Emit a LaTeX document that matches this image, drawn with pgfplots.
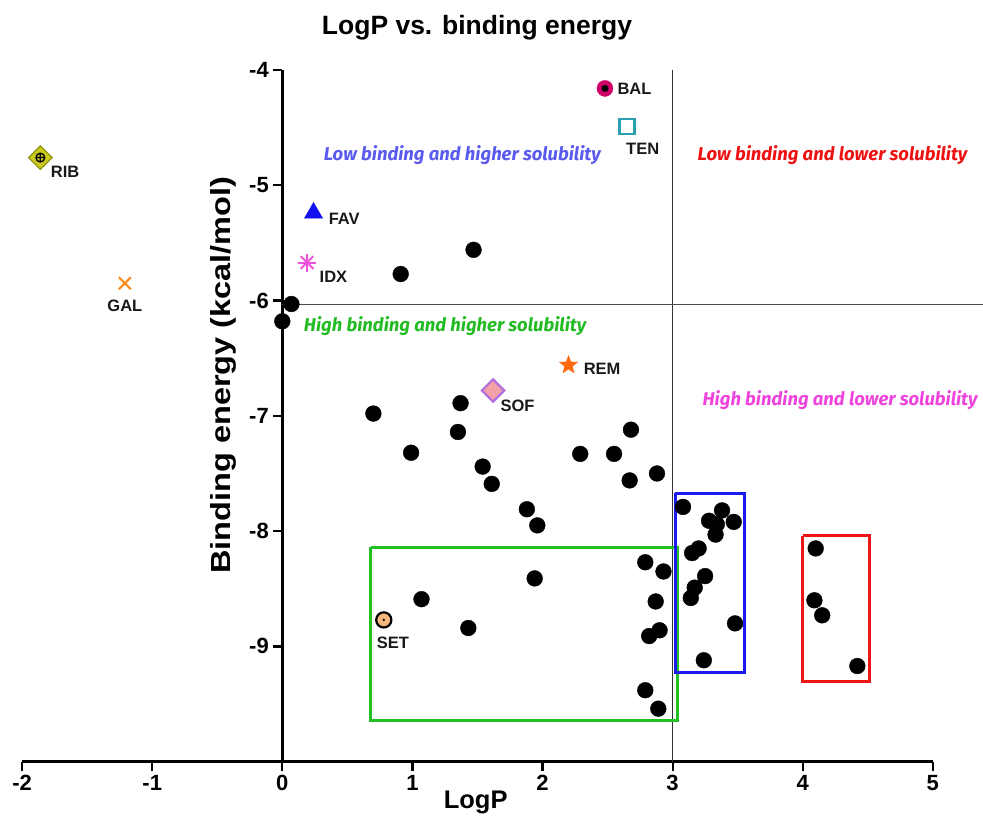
\documentclass[border=0pt]{standalone}
\usepackage{pgfplots}
\pgfplotsset{compat=1.18}
\usepackage{fontspec}
\setmainfont{Liberation Sans}
\newfontfamily\annfont{Fira Sans}
\definecolor{boxgreen}{HTML}{22C022}
\definecolor{boxblue}{HTML}{1A1AEE}
\definecolor{boxred}{HTML}{EE1515}
\definecolor{txtblue}{HTML}{5A5AEE}
\definecolor{txtgreen}{HTML}{22BB22}
\definecolor{txtred}{HTML}{EE1111}
\definecolor{txtmag}{HTML}{EE44DD}
\definecolor{ribfill}{HTML}{C8C81E}
\definecolor{ribedge}{HTML}{8C8C10}
\definecolor{galorange}{HTML}{FF8C1A}
\definecolor{favblue}{HTML}{1010F0}
\definecolor{idxmag}{HTML}{EE50D8}
\definecolor{balred}{HTML}{CC0066}
\definecolor{tenteal}{HTML}{2AA0B0}
\definecolor{remorange}{HTML}{FF6A10}
\definecolor{soffill}{HTML}{F4A0A8}
\definecolor{sofedge}{HTML}{B070E0}
\definecolor{setfill}{HTML}{F5B87A}
\pgfdeclareplotmark{fstar}{%
  \pgfpathmoveto{\pgfpointpolar{90}{\pgfplotmarksize}}%
  \pgfpathlineto{\pgfpointpolar{126}{0.42\pgfplotmarksize}}%
  \pgfpathlineto{\pgfpointpolar{162}{\pgfplotmarksize}}%
  \pgfpathlineto{\pgfpointpolar{198}{0.42\pgfplotmarksize}}%
  \pgfpathlineto{\pgfpointpolar{234}{\pgfplotmarksize}}%
  \pgfpathlineto{\pgfpointpolar{270}{0.42\pgfplotmarksize}}%
  \pgfpathlineto{\pgfpointpolar{306}{\pgfplotmarksize}}%
  \pgfpathlineto{\pgfpointpolar{342}{0.42\pgfplotmarksize}}%
  \pgfpathlineto{\pgfpointpolar{18}{\pgfplotmarksize}}%
  \pgfpathlineto{\pgfpointpolar{54}{0.42\pgfplotmarksize}}%
  \pgfpathclose
  \pgfusepathqfillstroke
}
\begin{document}
\begin{tikzpicture}
\begin{axis}[
  scale only axis, width=911pt, height=692pt,
  xmin=-2, xmax=5, ymin=-10, ymax=-4,
  axis x line*=bottom, axis y line*=middle,
  axis line style={line width=2.8pt, -},
  hide obscured x ticks=false, hide obscured y ticks=false,
  xtick={-2,-1,0,1,2,3,4,5},
  xticklabels={{-2},{-1},0,1,2,3,4,5},
  ytick={-9,-8,-7,-6,-5,-4},
  yticklabels={{-9},{-8},{-7},{-6},{-5},{-4}},
  tick align=outside, major tick length=9pt,
  tick style={line width=2.2pt, black},
  tick label style={font=\bfseries\fontsize{22}{24}\selectfont},
  xticklabel style={yshift=-1pt},
  yticklabel style={xshift=-1pt},
  title={LogP vs. binding energy},
  title style={font=\bfseries\fontsize{26.5}{28}\selectfont, at={(axis description cs:0.4995,1.052)}, anchor=center},
  xlabel={LogP},
  xlabel style={font=\bfseries\fontsize{25.5}{28}\selectfont, at={(axis description cs:0.498,-0.059)}, anchor=center},
  ylabel={\scalebox{1}[0.85]{Binding energy (kcal/mol)}},
  ylabel style={font=\bfseries\fontsize{32.5}{34}\selectfont, at={(axis description cs:0.2205,0.559)}, anchor=center, rotate=0},
  clip=false,
]
% reference lines
\addplot[black!80, line width=1pt] coordinates {(3,-10) (3,-4)};
\addplot[black!70, line width=1pt] coordinates {(0,-6.03) (5.386,-6.03)};
% boxes
\addplot[boxgreen, line width=3pt] coordinates {(0.68,-8.14) (3.04,-8.14) (3.04,-9.64) (0.68,-9.64) (0.68,-8.14)};
\addplot[boxblue, line width=3pt] coordinates {(3.02,-7.67) (3.55,-7.67) (3.55,-9.23) (3.02,-9.23) (3.02,-7.67)};
\addplot[boxred, line width=3pt] coordinates {(4.00,-8.04) (4.51,-8.04) (4.51,-9.30) (4.00,-9.30) (4.00,-8.04)};
% black compounds
\addplot[only marks, mark=*, mark size=7.9pt, black] coordinates {
(0,-6.18) (0.07,-6.03) (0.91,-5.77) (1.47,-5.56) (0.70,-6.98) (1.37,-6.89)
(1.35,-7.14) (0.99,-7.32) (1.54,-7.44) (1.61,-7.59) (2.29,-7.33) (2.55,-7.33)
(2.68,-7.12) (2.67,-7.56) (2.88,-7.50) (1.88,-7.81) (1.96,-7.95) (1.94,-8.41)
(1.07,-8.59) (1.43,-8.84) (2.79,-8.27) (2.93,-8.35) (2.87,-8.61) (2.90,-8.86)
(2.82,-8.91) (2.79,-9.38) (2.89,-9.54)
(3.08,-7.79) (3.38,-7.82) (3.28,-7.91) (3.47,-7.92) (3.34,-7.94) (3.33,-8.03)
(3.20,-8.15) (3.15,-8.19) (3.25,-8.39) (3.17,-8.49) (3.14,-8.58) (3.48,-8.80)
(3.24,-9.12)
(4.10,-8.15) (4.09,-8.60) (4.15,-8.73) (4.42,-9.17)
};
% RIB
\addplot[only marks, mark=square*, mark size=8.4pt, mark options={rotate=45, fill=ribfill, draw=ribedge, line width=1pt}] coordinates {(-1.86,-4.76)};
\addplot[only marks, mark=oplus, mark size=4.4pt, mark options={draw=black, line width=1.3pt}] coordinates {(-1.86,-4.76)};
% GAL
\addplot[only marks, mark=x, mark size=8.5pt, mark options={draw=galorange, line width=2.2pt}] coordinates {(-1.21,-5.85)};
% FAV
\addplot[only marks, mark=triangle*, mark size=10.5pt, mark options={fill=favblue, draw=favblue}] coordinates {(0.24,-5.24)};
% IDX
\addplot[only marks, mark=+, mark size=9pt, mark options={draw=idxmag, line width=2pt}] coordinates {(0.19,-5.67)};
\addplot[only marks, mark=x, mark size=9pt, mark options={draw=idxmag, line width=2pt}] coordinates {(0.19,-5.67)};
% BAL
\addplot[only marks, mark=*, mark size=8pt, mark options={fill=balred, draw=balred}] coordinates {(2.48,-4.16)};
\addplot[only marks, mark=*, mark size=3.2pt, black] coordinates {(2.48,-4.16)};
% TEN
\addplot[only marks, mark=square, mark size=7.6pt, mark options={draw=tenteal, line width=2.6pt}] coordinates {(2.65,-4.49)};
% REM
\addplot[only marks, mark=fstar, mark size=9pt, mark options={draw=remorange, fill=remorange, line width=0.8pt}] coordinates {(2.20,-6.56)};
% SOF
\addplot[only marks, mark=square*, mark size=7.9pt, mark options={rotate=45, fill=soffill, draw=sofedge, line width=2.2pt}] coordinates {(1.62,-6.78)};
% SET
\addplot[only marks, mark=*, mark size=7.6pt, mark options={fill=setfill, draw=black, line width=2.2pt}] coordinates {(0.78,-8.77)};
\addplot[only marks, mark=*, mark size=1pt, black] coordinates {(0.78,-8.77)};
% compound labels
\begin{scope}[every node/.style={font=\bfseries\fontsize{16.5}{18}\selectfont, text=black!90}]
\node[anchor=center] at (axis cs:-1.67,-4.88) {RIB};
\node[anchor=center] at (axis cs:-1.21,-6.05) {GAL};
\node[anchor=west] at (axis cs:0.33,-5.29) {FAV};
\node[anchor=west] at (axis cs:0.26,-5.79) {IDX};
\node[anchor=west] at (axis cs:2.55,-4.16) {BAL};
\node[anchor=center] at (axis cs:2.77,-4.68) {TEN};
\node[anchor=west] at (axis cs:2.29,-6.59) {REM};
\node[anchor=west] at (axis cs:1.65,-6.91) {SOF};
\node[anchor=center] at (axis cs:0.85,-8.97) {SET};
\end{scope}
% region annotations
\begin{scope}[every node/.style={font=\annfont\bfseries\itshape\fontsize{18.5}{20}\selectfont}]
\node[text=txtblue] at (axis cs:1.383,-4.737) {Low binding and higher solubility};
\node[text=txtred] at (axis cs:4.229,-4.737) {Low binding and lower solubility};
\node[text=txtgreen] at (axis cs:1.251,-6.218) {High binding and higher solubility};
\node[text=txtmag] at (axis cs:4.287,-6.86) {High binding and lower solubility};
\end{scope}
\coordinate (BBbl) at (axis cs:-2.17,-10.48);
\coordinate (BBtr) at (axis cs:5.386,-3.393);
\end{axis}
\pgfresetboundingbox
\useasboundingbox (BBbl) rectangle (BBtr);
\end{tikzpicture}
\end{document}
